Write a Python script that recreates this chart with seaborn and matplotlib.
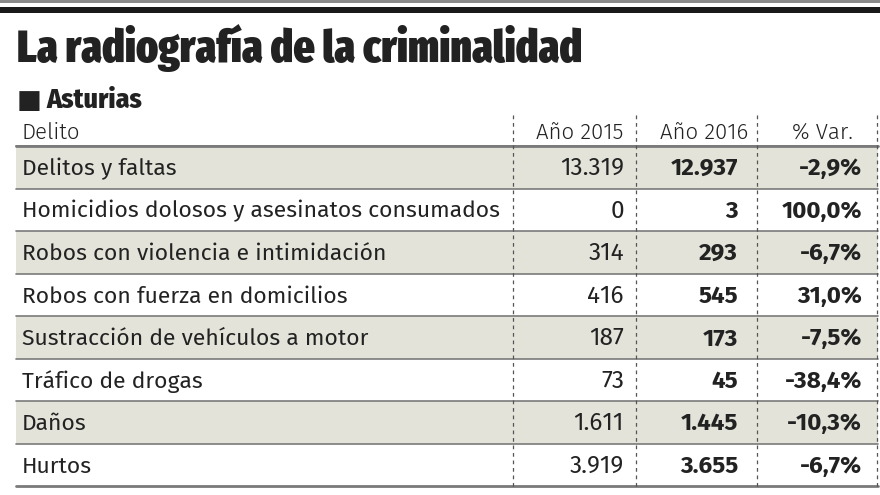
import matplotlib
matplotlib.use("Agg")
import matplotlib.pyplot as plt
from matplotlib import font_manager as fm
import seaborn as sns

delitos = [
    "Delitos y faltas",
    "Homicidios dolosos y asesinatos consumados",
    "Robos con violencia e intimidación",
    "Robos con fuerza en domicilios",
    "Sustracción de vehículos a motor",
    "Tráfico de drogas",
    "Daños",
    "Hurtos",
]
anio_2015 = ["13.319", "0", "314", "416", "187", "73", "1.611", "3.919"]
anio_2016 = ["12.937", "3", "293", "545", "173", "45", "1.445", "3.655"]
variacion = ["-2,9%", "100,0%", "-6,7%", "31,0%", "-7,5%", "-38,4%", "-10,3%", "-6,7%"]
cabecera = ["Delito", "Año 2015", "Año 2016", "% Var."]

installed = {f.name for f in fm.fontManager.ttflist}


def pick(*names):
    for n in names:
        if n in installed:
            return [n, "DejaVu Sans"]
    return ["DejaVu Sans"]


sns.set_theme(style="white")
body_font = pick("Fira Sans", "Roboto", "Open Sans")
title_font = pick("Fira Sans Extra Condensed", "Fira Sans Condensed", "Roboto Condensed", "Roboto")
sub_font = pick("Fira Sans Condensed", "Roboto Condensed", "Roboto")
plt.rcParams["font.family"] = body_font

TXT = "#222222"
SHADE = "#e3e3da"
LINE = "#7a7a7a"

fig = plt.figure(figsize=(8.8, 4.95), dpi=100)
ax = fig.add_axes([0, 0, 1, 1])
ax.set_xlim(0, 880)
ax.set_ylim(495, 0)
ax.axis("off")

# top rules
ax.axhspan(0, 3, color="#8a8a8a", lw=0)
ax.axhspan(7, 13, color="#1a1a1a", lw=0)

ax.text(17, 62, "La radiografía de la criminalidad", fontsize=32.5,
        fontweight=900, color=TXT, va="baseline", family=title_font)
ax.text(17, 108, "■", fontsize=19, color=TXT, va="baseline", family=["DejaVu Sans"])
ax.text(46, 108, "Asturias", fontsize=20, fontweight=800, color=TXT,
        va="baseline", family=sub_font)

# header
top = 146
row_h = 42.5
hy = 139
hkw = dict(fontsize=16, color=TXT, va="baseline", fontweight=300)
ax.text(22, hy, cabecera[0], **hkw)
ax.text(623, hy, cabecera[1], ha="right", **hkw)
ax.text(748, hy, cabecera[2], ha="right", **hkw)
ax.text(853, hy, cabecera[3], ha="right", **hkw)

n = len(delitos)
fs = 16.5
fn = 17.5
for i, name in enumerate(delitos):
    y0 = top + i * row_h
    if i % 2 == 0:
        ax.add_patch(plt.Rectangle((16, y0), 862, row_h, color=SHADE, lw=0, zorder=0))
    ax.plot([16, 878], [y0, y0], color=LINE, lw=1.2, zorder=1)
    yb = y0 + row_h / 2 + 8
    ax.text(22, yb, name, fontsize=fs, color=TXT, va="baseline")
    ax.text(624, yb, anio_2015[i], fontsize=fn, color=TXT, va="baseline", ha="right")
    ax.text(738, yb, anio_2016[i], fontsize=fn, color=TXT, va="baseline", ha="right",
            fontweight="bold")
    ax.text(862, yb, variacion[i], fontsize=fn, color=TXT, va="baseline", ha="right",
            fontweight="bold")

bottom = top + n * row_h
ax.plot([16, 878], [top, top], color=LINE, lw=2, zorder=2)
ax.plot([16, 878], [bottom, bottom], color=LINE, lw=2, zorder=2)

for x in [513, 636, 757, 877]:
    ax.plot([x, x], [115, bottom + 3], color="#555555", lw=0.9,
            ls=(0, (3, 3)), zorder=3)

fig.savefig("out.png", dpi=100)
